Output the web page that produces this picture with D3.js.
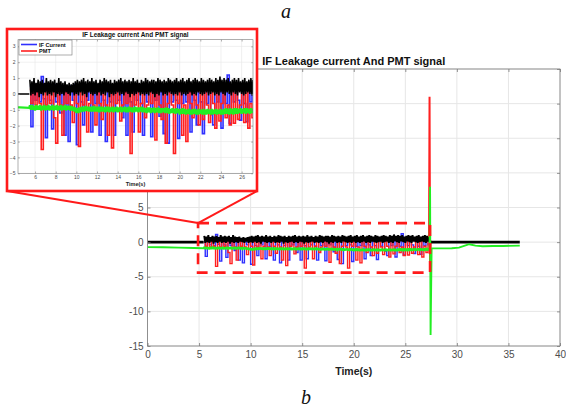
<!DOCTYPE html>
<html><head><meta charset="utf-8">
<script src="https://cdn.jsdelivr.net/npm/d3@7/dist/d3.min.js"></script>
<style>
body{margin:0;background:#fff;}
svg{display:block;font-family:"Liberation Sans",Arial,Helvetica,sans-serif;}
</style>
</head><body>
<svg id="chart" width="566" height="410"></svg>
<script>
// ---------------- DATA ----------------
const mainTitle = "IF Leakage current And PMT signal";
const xLabel = "Time(s)";
const legendNames = ["IF Current", "PMT"];
const xTicksMain = [0,5,10,15,20,25,30,35,40];
const yTicksMain = [-15,-10,-5,0,5,10,15,20,25];
const xTicksInset = [6,8,10,12,14,16,18,20,22,24,26];
const yTicksInset = [-5,-4,-3,-2,-1,0,1,2,3];

// noisy section sampling (seconds)
const noiseStart = 5.5;
const fineStep = 0.1;
const coarseStep = 0.2;

const blackNoise = [
0.9,-0.1,0.8,0.0,1.0,-0.1,0.7,0.1,0.9,-0.2,
0.8,0.0,0.9,-0.1,0.7,0.1,1.0,-0.1,0.8,0.0,
0.9,-0.1,0.8,0.1,0.9,-0.2,0.7,0.0,1.0,-0.1,
0.8,0.0,0.7,-0.1,0.8,0.1,0.6,0.0,0.7,-0.1,
0.6,0.1,0.7,-0.1,0.8,0.0,0.9,-0.1,0.8,0.1,
0.9,-0.1,1.0,0.0,0.8,-0.2,0.9,0.1,0.8,0.0,
1.0,-0.1,0.8,0.0,0.9,-0.1,0.7,0.1,0.9,-0.1,
0.8,0.0,1.0,-0.1,0.9,0.1,0.8,-0.2,0.9,0.0,
0.7,-0.1,0.9,0.0,0.8,0.1,0.9,-0.1,1.0,0.0,
0.8,-0.1,0.9,0.1,0.8,0.0,0.9,-0.2,0.8,0.0,
1.0,-0.1,0.8,0.0,0.9,0.1,0.7,-0.1,0.9,0.0,
0.8,-0.1,1.0,0.0,0.9,-0.1,0.8,0.1,0.9,0.0,
0.9,-0.2,0.8,0.0,1.0,-0.1,0.9,0.1,0.8,-0.1,
0.9,0.0,0.8,-0.1,1.0,0.1,0.9,0.0,0.8,-0.1,
0.9,0.0,1.0,-0.1,0.8,0.1,0.9,-0.1,1.0,0.0,
0.8,-0.1,0.9,0.0,1.0,0.1,0.8,-0.1,0.9,0.0,
1.0,-0.1,0.9,0.1,0.8,0.0,1.0,-0.1,0.9,0.0,
0.8,0.1,0.9,-0.1,1.0,0.0,0.9,0.1,0.8,-0.1,
1.0,0.0,0.9,-0.1,1.1,0.1,0.9,0.0,1.0,-0.1,
0.9,0.1,1.0,0.0,0.8,-0.1,0.9,0.1,1.0,0.0,
0.9,-0.1,1.0,0.1,0.8,0.0,0.9,-0.1,1.0,0.0,
0.8,0.1,0.9,0.0,1.0,-0.1,0.9,0.1,0.7
];

const greenNoise = [
-0.7,-1.0,-0.7,-1.0,-0.75,-1.05,-0.7,-1.0,-0.75,-1.0,
-0.7,-1.05,-0.75,-1.0,-0.7,-1.05,-0.75,-1.0,-0.7,-1.05,
-0.75,-1.0,-0.7,-1.05,-0.75,-1.0,-0.7,-1.05,-0.75,-1.0,
-0.7,-1.05,-0.75,-1.0,-0.7,-1.05,-0.75,-1.0,-0.75,-1.05,
-0.75,-1.05,-0.8,-1.1,-0.85,-1.2,-0.9,-1.2,-0.85,-1.15,
-0.8,-1.1,-0.8,-1.1,-0.75,-1.05,-0.8,-1.1,-0.8,-1.1,
-0.8,-1.1,-0.75,-1.1,-0.8,-1.1,-0.8,-1.15,-0.8,-1.1,
-0.8,-1.1,-0.85,-1.15,-0.8,-1.1,-0.8,-1.15,-0.85,-1.1,
-0.8,-1.15,-0.85,-1.1,-0.8,-1.15,-0.85,-1.1,-0.8,-1.15,
-0.85,-1.1,-0.8,-1.15,-0.85,-1.15,-0.8,-1.1,-0.85,-1.15,
-0.85,-1.15,-0.8,-1.1,-0.85,-1.15,-0.85,-1.1,-0.8,-1.15,
-0.85,-1.15,-0.9,-1.2,-0.85,-1.15,-0.85,-1.2,-0.9,-1.15,
-0.85,-1.2,-0.9,-1.15,-0.85,-1.2,-0.9,-1.2,-0.9,-1.15,
-0.9,-1.2,-0.85,-1.2,-0.9,-1.25,-0.95,-1.2,-0.9,-1.2,
-0.95,-1.25,-0.9,-1.2,-0.95,-1.3,-0.95,-1.25,-0.9,-1.25,
-0.95,-1.3,-1.0,-1.25,-0.95,-1.3,-1.0,-1.3,-0.95,-1.25,
-0.95,-1.3,-1.0,-1.3,-0.95,-1.25,-1.0,-1.3,-0.95,-1.3,
-1.0,-1.3,-0.95,-1.25,-1.0,-1.3,-0.95,-1.3,-1.0,-1.25,
-0.95,-1.3,-1.0,-1.25,-0.95,-1.3,-1.0,-1.3,-0.95,-1.25,
-0.9,-1.25,-0.95,-1.3,-0.9,-1.25,-0.95,-1.3,-0.9,-1.25,
-0.9,-1.25,-0.95,-1.2,-0.9,-1.25,-0.95,-1.2,-0.9,-1.25,
-0.9,-1.2,-0.95,-1.25,-0.9,-1.2,-0.95,-1.2,-0.9
];

const blueNoise = [
0.5,-2.06,0.6,-0.4,0.5,-0.5,1.1,-0.3,-2.75,0.5,
-0.4,-2.2,0.6,-0.5,0.4,-1.2,0.5,-2.6,0.4,-3.0,
0.5,-0.4,0.6,-3.2,0.4,-0.5,-1.95,0.5,-0.4,0.6,
-2.4,0.5,-0.6,0.4,-2.6,0.5,-0.4,-3.0,0.6,-0.5,
0.4,-2.6,0.5,-0.4,0.6,-1.5,0.4,-2.6,0.5,-0.5,
-2.4,0.6,-0.4,0.5,-0.6,-2.6,0.4,-0.5,0.6,-2.7,
0.5,-0.4,0.6,-1.4,0.5,-2.5,0.4,-3.1,0.5,-0.5,
0.6,-0.4,-2.8,0.5,-0.6,0.4,-0.5,0.6,-2.4,0.5,
-0.4,-1.95,0.6,-0.5,-2.5,0.4,-0.6,0.5,-1.3,-1.95,
0.5,-0.5,0.6,-2.15,0.4,-0.6,1.2,-1.85,0.5,-0.5,
0.6,-0.4,-1.65,0.5,-0.6,-1.75,0.4,-0.5,0.6,-0.4
];

const redNoise = [
0.3,-0.6,0.4,-0.7,0.5,-0.6,-3.5,0.3,-0.7,0.4,
-0.6,0.5,-1.5,-3.1,0.4,-0.7,-2.6,0.3,-0.6,0.4,
-0.7,-1.8,0.3,-0.6,-3.3,0.4,-0.7,0.3,-2.4,-0.6,
0.4,-0.7,-1.95,0.3,-0.6,-1.6,0.4,-0.7,-2.6,0.3,
-3.4,0.4,-0.6,0.3,-1.7,-0.7,0.4,-0.6,0.3,-3.75,
0.4,-0.7,0.3,-2.4,-0.6,0.4,-1.5,-0.7,0.3,-0.6,
0.4,-2.9,0.3,-0.7,-1.6,0.4,-3.1,-0.6,0.3,-0.7,
-3.75,0.4,-0.6,0.3,-2.6,-0.7,-3.0,0.4,-0.6,-1.5,
0.3,-0.7,-1.95,0.4,-1.6,0.3,-0.7,-1.8,0.4,-0.6,
-2.15,0.3,-1.7,-0.6,0.4,-1.5,-0.7,-1.95,0.3,-1.85,
0.4,-1.6,-0.7,0.3,-1.8,0.4,-2.15,-0.6,-1.5,0.3
];

// quiet sections and the end-of-test transient
const blackBeforeT = [0, 5.45];
const blackBeforeV = [0, 0];
const blackAfterT  = [27.4, 36.1];
const blackAfterV  = [0, 0];
const greenBeforeT = [0, 1.5, 3, 4.5, 5.45];
const greenBeforeV = [-0.72, -0.75, -0.8, -0.85, -0.88];
const greenAfterT  = [27.35, 27.4, 27.45, 27.55, 28.5, 29.5, 30.2, 30.7, 31.2, 31.8, 32.5, 33.5, 34.5, 36.1];
const greenAfterV  = [-1.1, 8, -13.4, -0.9, -0.9, -0.88, -0.8, -0.55, -0.3, -0.5, -0.6, -0.55, -0.55, -0.5];
const redAfterT    = [27.35, 27.4, 27.45, 27.5];
const redAfterV    = [21, -3.0, 0.2, 0];
const blueAfterT   = [27.4];
const blueAfterV   = [0];

// zoomed region marked on the main plot
const zoomT = [4.9, 27.4];
const zoomV = [-4.4, 2.75];

// ---------------- BUILD ----------------
const svg = d3.select("#chart");
const zip = (T, V) => T.map((t, i) => [t, V[i]]);
const sampled = (vals, step) => vals.map((v, i) => [noiseStart + i * step, v]);

const blackSeg = [zip(blackBeforeT, blackBeforeV), sampled(blackNoise, fineStep), zip(blackAfterT, blackAfterV)];
const blueNoisePts = sampled(blueNoise, coarseStep), blueTail = zip(blueAfterT, blueAfterV);
const redNoisePts = sampled(redNoise, coarseStep), redTail = zip(redAfterT, redAfterV);
const greenSeries = zip(greenBeforeT, greenBeforeV).concat(sampled(greenNoise, fineStep), zip(greenAfterT, greenAfterV));

const COL = {blue:"#3030ff", red:"#ff2020", green:"#22ee22", black:"#000"};
const axisCol = "#7a7a7a", gridCol = "#e6e6e6", labCol = "#4d4d4d";

function drawPlot(g, x, y, xt, yt, o) {
  const [x0, x1] = x.range(), [y0, y1] = y.range(); // y0 bottom, y1 top
  const id = o.id;
  svg.append("clipPath").attr("id", id).append("rect")
    .attr("x", x0).attr("y", y1).attr("width", x1 - x0).attr("height", y0 - y1);
  g.append("rect").attr("x", x0).attr("y", y1).attr("width", x1 - x0).attr("height", y0 - y1).attr("fill", "#fff");
  // grid
  g.append("g").selectAll("line").data(xt).join("line")
    .attr("x1", d => x(d)).attr("x2", d => x(d)).attr("y1", y1).attr("y2", y0)
    .attr("stroke", gridCol).attr("stroke-width", o.grid);
  g.append("g").selectAll("line").data(yt).join("line")
    .attr("y1", d => y(d)).attr("y2", d => y(d)).attr("x1", x0).attr("x2", x1)
    .attr("stroke", gridCol).attr("stroke-width", o.grid);
  // series
  const line = d3.line().x(d => x(d[0])).y(d => y(d[1]));
  const stepLine = d3.line().x(d => x(d[0])).y(d => y(d[1])).curve(d3.curveStep);
  const sg = g.append("g").attr("clip-path", `url(#${id})`);
  const path = (data, gen, col, w) => sg.append("path").datum(data).attr("d", gen)
      .attr("fill", "none").attr("stroke", col).attr("stroke-width", w).attr("stroke-linejoin", "miter").attr("stroke-miterlimit", 2);
  path(blueNoisePts, stepLine, COL.blue, o.wBlue);
  path([blueNoisePts[blueNoisePts.length - 1]].concat(blueTail), line, COL.blue, o.wBlue);
  path(redNoisePts, stepLine, COL.red, o.wRed);
  path([redNoisePts[redNoisePts.length - 1]].concat(redTail), line, COL.red, o.wSpike);
  path(blackSeg[0], line, COL.black, o.wFlat);
  path(blackSeg[1], line, COL.black, o.wBlack);
  path(blackSeg[2], line, COL.black, o.wFlat);
  path(greenSeries, line, COL.green, o.wGreen);
  // axes (MATLAB style: inward ticks, box)
  const fs = o.font;
  const style = sel => {
    sel.select(".domain").remove();
    sel.selectAll("line").attr("stroke", axisCol).attr("stroke-width", o.axisW);
    sel.selectAll("text").attr("fill", labCol).style("font-size", fs + "px").style("font-family", "Liberation Sans, Arial, sans-serif");
  };
  const yFmt = o.hideAbove != null ? (d => d > o.hideAbove ? "" : d) : null;
  g.append("g").attr("transform", `translate(0,${y0})`)
    .call(d3.axisBottom(x).tickValues(xt).tickSizeInner(-o.tick).tickSizeOuter(0).tickPadding(o.padX)).call(style);
  g.append("g").attr("transform", `translate(${x0},0)`)
    .call(d3.axisLeft(y).tickValues(yt).tickSizeInner(-o.tick).tickSizeOuter(0).tickPadding(o.padY).tickFormat(yFmt)).call(style);
  g.append("g").attr("transform", `translate(0,${y1})`)
    .call(d3.axisBottom(x).tickValues(xt).tickSizeInner(o.tick).tickSizeOuter(0).tickFormat("")).call(style);
  g.append("g").attr("transform", `translate(${x1},0)`)
    .call(d3.axisLeft(y).tickValues(yt).tickSizeInner(o.tick).tickSizeOuter(0).tickFormat("")).call(style);
  g.append("rect").attr("x", x0).attr("y", y1).attr("width", x1 - x0).attr("height", y0 - y1)
    .attr("fill", "none").attr("stroke", axisCol).attr("stroke-width", o.axisW);
  // title & x label
  g.append("text").attr("x", (x0 + x1) / 2).attr("y", o.titleY).attr("text-anchor", "middle")
    .style("font-size", o.titleFont + "px").style("font-weight", "bold").attr("fill", "#111").text(mainTitle);
  g.append("text").attr("x", (x0 + x1) / 2).attr("y", o.xlabY).attr("text-anchor", "middle")
    .style("font-size", o.xlabFont + "px").style("font-weight", "bold").attr("fill", "#222").text(xLabel);
}

// main plot (labels 10..25 lie under the inset in the figure)
const xM = d3.scaleLinear([0, 40], [147.5, 560]);
const yM = d3.scaleLinear([-15, 25], [346, 69]);
const gMain = svg.append("g");
drawPlot(gMain, xM, yM, xTicksMain, yTicksMain, {
  id: "clipMain", grid: 1, wBlue: 1.4, wRed: 1.4, wSpike: 2, wBlack: 1.9, wFlat: 2.8, wGreen: 1.9,
  font: 10, tick: 3, padX: 5, padY: 4, axisW: 0.8, titleY: 64.5, titleFont: 11, xlabY: 375, xlabFont: 10.5,
  hideAbove: 5
});

// dashed zoom box
const zx0 = xM(zoomT[0]), zx1 = xM(zoomT[1]), zy0 = yM(zoomV[1]), zy1 = yM(zoomV[0]);
svg.append("rect").attr("x", zx0).attr("y", zy0).attr("width", zx1 - zx0).attr("height", zy1 - zy0)
  .attr("fill", "none").attr("stroke", "#ff1a1a").attr("stroke-width", 2.6).attr("stroke-dasharray", "11,7");

// inset frame + connectors
const frame = {x: 7, y: 29, w: 250, h: 162};
svg.append("line").attr("x1", frame.x).attr("y1", frame.y + frame.h).attr("x2", zx0).attr("y2", zy0)
  .attr("stroke", "#ff1a1a").attr("stroke-width", 2);
svg.append("line").attr("x1", frame.x + frame.w).attr("y1", frame.y + frame.h).attr("x2", zx0).attr("y2", zy0)
  .attr("stroke", "#ff1a1a").attr("stroke-width", 2);
svg.append("rect").attr("x", frame.x).attr("y", frame.y).attr("width", frame.w).attr("height", frame.h)
  .attr("fill", "#fff").attr("stroke", "#ff1a1a").attr("stroke-width", 2.6);

// inset plot
const xI = d3.scaleLinear([4.35, 27.1], [18, 253]);
const yI = d3.scaleLinear([-5, 3.42], [173.3, 39.7]);
const gIn = svg.append("g");
drawPlot(gIn, xI, yI, xTicksInset, yTicksInset, {
  id: "clipInset", grid: 0.6, wBlue: 1.6, wRed: 1.6, wSpike: 1.2, wBlack: 1.6, wFlat: 1.4, wGreen: 2.2,
  font: 5, tick: 1.8, padX: 2.5, padY: 2.5, axisW: 0.6, titleY: 37, titleFont: 6.4, xlabY: 185.5, xlabFont: 5.5
});

// inset legend
const lg = gIn.append("g").attr("transform", "translate(19,40)");
lg.append("rect").attr("width", 53).attr("height", 15).attr("fill", "#fff").attr("stroke", "#777").attr("stroke-width", 0.6);
[COL.blue, COL.red].forEach((c, i) => {
  lg.append("line").attr("x1", 2).attr("x2", 18).attr("y1", 4.5 + i * 6.5).attr("y2", 4.5 + i * 6.5)
    .attr("stroke", c).attr("stroke-width", 1.6);
  lg.append("text").attr("x", 20).attr("y", 6.5 + i * 6.5).style("font-size", "5.6px").attr("fill", "#111")
    .style("font-weight", "bold").text(legendNames[i]);
});

// figure panel letters
svg.append("text").attr("x", 286).attr("y", 18).attr("text-anchor", "middle")
  .style("font-family", "Liberation Serif, 'Times New Roman', serif").style("font-style", "italic")
  .style("font-size", "20px").attr("fill", "#111").text("a");
svg.append("text").attr("x", 306).attr("y", 404).attr("text-anchor", "middle")
  .style("font-family", "Liberation Serif, 'Times New Roman', serif").style("font-style", "italic")
  .style("font-size", "20px").attr("fill", "#111").text("b");
</script>
</body></html>
